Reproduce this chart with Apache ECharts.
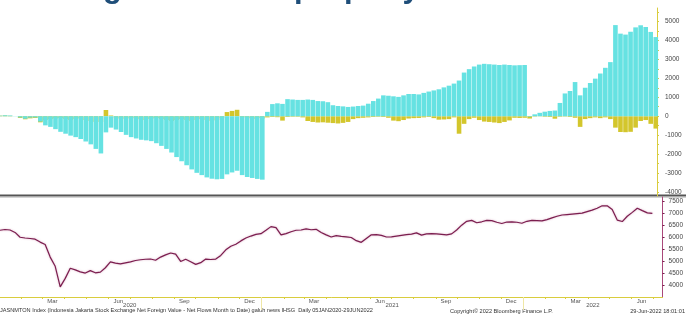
<!DOCTYPE html>
<html>
<head>
<meta charset="utf-8">
<script src="https://cdn.jsdelivr.net/npm/echarts@6/dist/echarts.min.js"></script>
<style>
    html, body { margin: 0; padding: 0; background: #fff; }
    #chart { width: 686px; height: 316px; }
</style>
</head>
<body>
<div id="chart"></div>
<script>
// weekly samples, first week 2020-01-02
var firstWeek = '2020-01-02';
var weekCount = 131;

// net foreign value (cyan bars)
var netForeign = [
    30, 50, 40, 10, -60, -130, -70, -60, -280, -480,
    -560, -680, -820, -920, -1020, -1100, -1200, -1330, -1480, -1720,
    -1960, -850, -600, -700, -830, -980, -1100, -1170, -1240, -1270,
    -1310, -1420, -1560, -1720, -1910, -2150, -2370, -2580, -2800, -2980,
    -3100, -3220, -3290, -3320, -3300, -3060, -2960, -2870, -3100, -3200,
    -3250, -3300, -3340, 230, 640, 680, 650, 900, 880, 860,
    860, 880, 860, 800, 790, 740, 580, 540, 520, 490,
    510, 540, 560, 660, 800, 930, 1100, 1080, 1050, 1020,
    1100, 1170, 1170, 1150, 1230, 1300, 1360, 1420, 1520, 1610,
    1720, 1880, 2300, 2480, 2620, 2720, 2760, 2740, 2720, 2700,
    2720, 2700, 2680, 2690, 2700, -30, 100, 180, 240, 280,
    300, 700, 1200, 1330, 1800, 1100, 1500, 1750, 1980, 2250,
    2550, 2850, 4800, 4350, 4300, 4450, 4680, 4790, 4700, 4440, 4170
];

// second flow series (yellow bars)
var propertyFlow = [
    30, 40, 20, 0, -90, -160, -110, -90, -320, -200,
    -150, -120, -100, -150, -200, -150, -120, -200, -250, -300,
    -300, 330, 40, -100, -150, -120, -100, -150, -200, -150,
    -120, -100, -150, -200, -250, -200, -150, -200, -250, -200,
    -150, -200, -250, -200, -100, 220, 280, 340, -50, -100,
    -150, -100, -120, -60, -40, -50, -230, -40, -30, -30,
    -60, -250, -300, -330, -320, -340, -360, -380, -350, -300,
    -150, -100, -80, -60, -40, -30, -40, -80, -230, -260,
    -200, -120, -100, -90, -60, -40, -100, -180, -170, -150,
    -60, -920, -400, -150, -80, -200, -280, -300, -330, -360,
    -300, -220, -80, -90, -80, -120, -20, -10, -30, -40,
    -130, -30, -20, -40, -80, -560, -150, -100, -60, -100,
    -60, -150, -600, -830, -840, -820, -600, -250, -200, -400, -650
];

// IHSG index (bottom panel)
var ihsg = [
    6290, 6320, 6300, 6200, 6000, 5970, 5950, 5920, 5800, 5700,
    5180, 4800, 3950, 4300, 4720, 4650, 4570, 4520, 4620, 4530,
    4560, 4740, 4980, 4930, 4900, 4940, 4980, 5040, 5070, 5090,
    5100, 5050, 5180, 5270, 5350, 5300, 5000, 5090, 4990, 4880,
    4950, 5100, 5080, 5100, 5250, 5480, 5630, 5710, 5850, 5970,
    6050, 6120, 6150, 6290, 6440, 6400, 6100, 6150, 6230, 6290,
    6300, 6350, 6310, 6330, 6200, 6100, 6010, 6070, 6040, 6020,
    5990, 5860, 5790, 5950, 6100, 6110, 6080, 6010, 6020, 6050,
    6080, 6110, 6130, 6180, 6090, 6140, 6150, 6140, 6120, 6100,
    6140, 6300, 6500, 6660, 6700, 6600, 6640, 6700, 6690, 6620,
    6570, 6630, 6640, 6620, 6580, 6660, 6700, 6690, 6680, 6730,
    6800, 6870, 6920, 6940, 6960, 6980, 7000, 7060, 7120, 7200,
    7300, 7300, 7150, 6710, 6650, 6870, 7030, 7200, 7100, 7010, 6990
];

var flowTicks = [-4000, -3000, -2000, -1000, 0, 1000, 2000, 3000, 4000, 5000];
var flowMinorTicks = [-4000, -3500, -3000, -2500, -2000, -1500, -1000, -500, 0, 500, 1000, 1500, 2000, 2500, 3000, 3500, 4000, 4500, 5000, 5500];
var ihsgTicks = [4000, 4500, 5000, 5500, 6000, 6500, 7000, 7500];
var monthLabels = ['2020-03-15', '2020-06-15', '2020-09-15', '2020-12-15', '2021-03-15', '2021-06-15',
                   '2021-09-15', '2021-12-15', '2022-03-15', '2022-06-15'];
var yearLabels = ['2020-07-01', '2021-07-02', '2022-04-08'];
var yearBreaks = ['2021-01-01', '2022-01-01'];
var monthNames = ['Jan', 'Feb', 'Mar', 'Apr', 'May', 'Jun', 'Jul', 'Aug', 'Sep', 'Oct', 'Nov', 'Dec'];

var footerLeft = 'JASNMTON Index (Indonesia Jakarta Stock Exchange Net Foreign Value - Net Flows Month to Date) galuh news IHSG  Daily 05JAN2020-29JUN2022';
var footerMid = 'Copyright\u00a9 2022 Bloomberg Finance L.P.';
var footerRight = '29-Jun-2022 18:01:01';

// x is measured in days since firstWeek
var DAY = 86400000;
function ts(s) {
    var p = s.split('-');
    return Date.UTC(+p[0], +p[1] - 1, +p[2]);
}
var start = ts(firstWeek);
function dayOf(s) { return (ts(s) - start) / DAY; }
function dateOf(d) { return new Date(start + d * DAY); }

var weeks = [];
for (var i = 0; i < weekCount; i++) weeks.push(i * 7);

var monthStarts = [];
for (var y = 2020; y <= 2022; y++) {
    for (var m = 0; m < 12; m++) {
        var d = (Date.UTC(y, m, 1) - start) / DAY;
        if (d > 0 && d < 920) monthStarts.push(d);
    }
}

function pairs(vals) {
    return vals.map(function (v, i) { return [weeks[i], v]; });
}

var xMaxTop = 911.7;
var xMaxBottom = 924.2;

var labelFont = 'Liberation Sans';
var yellowAxis = '#d9cd3e';
var maroonAxis = '#a9487a';

var chart = echarts.init(document.getElementById('chart'));
var option = {
    animation: false,
    backgroundColor: '#ffffff',
    grid: [
        { left: 0, top: 8, width: 657, height: 188 },
        { left: 0, top: 197, width: 666, height: 100 }
    ],
    xAxis: [
        {
            gridIndex: 0, type: 'value', position: 'bottom', min: 0, max: xMaxTop,
            axisLine: { show: false }, axisTick: { show: false },
            axisLabel: { show: false }, splitLine: { show: false }
        },
        {
            gridIndex: 1, type: 'value', position: 'bottom', min: 0, max: xMaxBottom,
            axisLine: { onZero: false, lineStyle: { color: yellowAxis, width: 1 } },
            axisTick: { customValues: monthStarts, length: 2, lineStyle: { color: yellowAxis } },
            axisLabel: {
                customValues: monthLabels.map(dayOf), margin: 1,
                fontSize: 6, fontFamily: labelFont, color: '#555',
                formatter: function (v) { return monthNames[dateOf(v).getUTCMonth()]; }
            },
            splitLine: { show: false }
        },
        {
            gridIndex: 1, type: 'value', position: 'bottom', min: 0, max: xMaxBottom, offset: 5,
            axisLine: { show: false, onZero: false }, axisTick: { show: false },
            axisLabel: {
                customValues: yearLabels.map(dayOf), margin: 0,
                fontSize: 6, fontFamily: labelFont, color: '#555',
                formatter: function (v) { return String(dateOf(v).getUTCFullYear()); }
            },
            splitLine: { show: false }
        },
        {
            gridIndex: 1, type: 'value', position: 'bottom', min: 0, max: xMaxBottom,
            axisLine: { show: false, onZero: false },
            axisTick: { customValues: yearBreaks.map(dayOf), length: 13, lineStyle: { color: '#efe7a6' } },
            axisLabel: { show: false }, splitLine: { show: false }
        }
    ],
    yAxis: [
        {
            gridIndex: 0, type: 'value', position: 'right', min: -4200, max: 5700,
            axisLine: { show: true, onZero: false, lineStyle: { color: yellowAxis, width: 1 } },
            axisTick: { show: true, customValues: flowMinorTicks, length: 2, lineStyle: { color: yellowAxis } },
            axisLabel: {
                customValues: flowTicks, margin: 8, fontSize: 6.5, fontFamily: labelFont, color: '#444',
                formatter: function (v) { return String(v); }
            },
            splitLine: { show: false }
        },
        {
            gridIndex: 1, type: 'value', position: 'right', min: 3530, max: 7665,
            axisLine: { show: true, onZero: false, lineStyle: { color: maroonAxis, width: 1 } },
            axisTick: { show: true, customValues: ihsgTicks, length: 2, lineStyle: { color: '#7b1e4f' } },
            axisLabel: {
                customValues: ihsgTicks, margin: 6, fontSize: 6.5, fontFamily: labelFont, color: '#444',
                formatter: function (v) { return String(v); }
            },
            splitLine: { show: false }
        }
    ],
    series: [
        {
            name: 'property', type: 'bar', xAxisIndex: 0, yAxisIndex: 0,
            data: pairs(propertyFlow), barWidth: 4.6, barGap: '-100%',
            itemStyle: { color: '#d3c62c' }
        },
        {
            name: 'net foreign', type: 'bar', xAxisIndex: 0, yAxisIndex: 0,
            data: pairs(netForeign), barWidth: 4.6, barGap: '-100%',
            itemStyle: { color: '#66e2e2' }
        },
        {
            name: 'IHSG', type: 'line', xAxisIndex: 1, yAxisIndex: 1,
            data: pairs(ihsg), showSymbol: false,
            lineStyle: { color: '#7b1e4f', width: 1.2, shadowColor: 'rgba(190,110,150,0.6)', shadowBlur: 2 }
        }
    ],
    graphic: [
        {
            type: 'text', x: 22, y: -12, silent: true,
            style: {
                text: 'Strong inflow into property', font: 'bold 31px "Liberation Sans"',
                fill: '#1f4e79', verticalAlign: 'middle'
            }
        },
        { type: 'rect', shape: { x: 0, y: 194.5, width: 686, height: 2 }, style: { fill: '#555' }, silent: true },
        { type: 'rect', shape: { x: 0, y: 196.8, width: 686, height: 0.8 }, style: { fill: '#aaa' }, silent: true },
        {
            type: 'text', left: 0, top: 307, silent: true,
            style: { text: footerLeft, font: '5.6px "Liberation Sans"', fill: '#333' }
        },
        {
            type: 'text', left: 450, top: 308, silent: true,
            style: { text: footerMid, font: '5.6px "Liberation Sans"', fill: '#333' }
        },
        {
            type: 'text', right: 1, top: 308, silent: true,
            style: { text: footerRight, font: '5.6px "Liberation Sans"', fill: '#333' }
        }
    ]
};
chart.setOption(option);
</script>
</body>
</html>
